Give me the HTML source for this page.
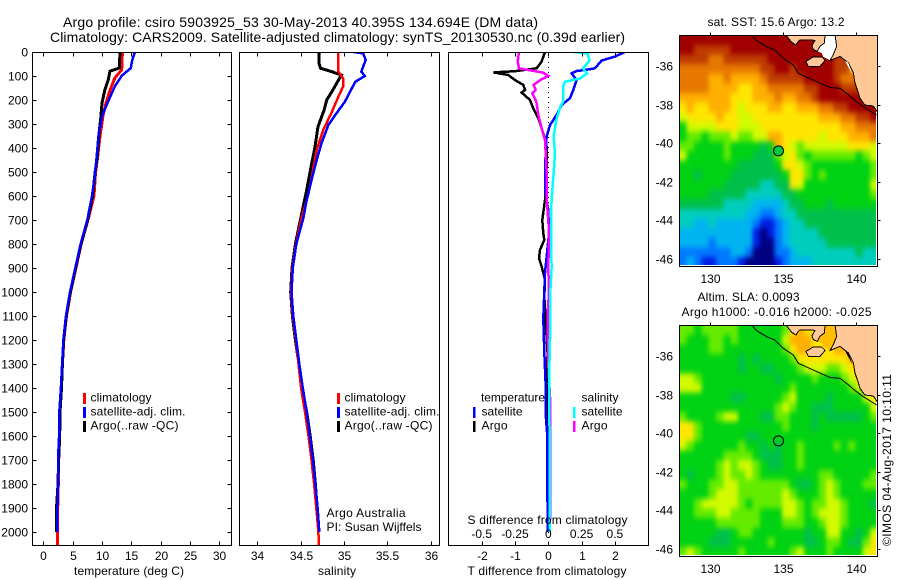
<!DOCTYPE html>
<html lang="en">
<head>
<meta charset="utf-8">
<title>Argo profile 5903925_53</title>
<style>
html,body{margin:0;padding:0;background:#fff;}
svg{display:block;}
text{font-family:"Liberation Sans",sans-serif;font-size:12px;fill:#000;}
.t14{font-size:14px;}
</style>
</head>
<body>
<svg id="chart" xmlns="http://www.w3.org/2000/svg" width="900" height="580" viewBox="0 0 900 580">
  <rect x="0" y="0" width="900" height="580" fill="#fff"/>
  <defs>
    <clipPath id="clip-p1"><rect x="32" y="52" width="200" height="494"/></clipPath>
    <clipPath id="clip-p2"><rect x="239" y="52" width="201" height="494"/></clipPath>
    <clipPath id="clip-p3"><rect x="448" y="52" width="201" height="494"/></clipPath>
    <clipPath id="clip-m1"><rect x="680" y="36" width="197" height="230"/></clipPath>
    <clipPath id="clip-m2"><rect x="680" y="326" width="197" height="230"/></clipPath>
    <clipPath id="clip-f1"><rect x="680" y="36" width="196" height="229"/></clipPath>
    <clipPath id="clip-f2"><rect x="680" y="326" width="196" height="229"/></clipPath>
    <filter id="field-soften" filterUnits="userSpaceOnUse" x="640" y="0" width="260" height="580" color-interpolation-filters="sRGB">
      <feGaussianBlur stdDeviation="2.2 2.8"/>
    </filter>
  </defs>

  <text class="t14" x="63" y="27" textLength="475" lengthAdjust="spacing">Argo profile: csiro 5903925_53 30-May-2013 40.395S 134.694E (DM data)</text>
  <text class="t14" x="50" y="42" textLength="575" lengthAdjust="spacing">Climatology: CARS2009. Satellite-adjusted climatology: synTS_20130530.nc (0.39d earlier)</text>

  <g id="marks"></g>

  <text x="74" y="575" textLength="110" lengthAdjust="spacing">temperature (deg C)</text>
  <text x="318" y="575" textLength="38" lengthAdjust="spacing">salinity</text>
  <text x="467.5" y="575" textLength="159" lengthAdjust="spacing">T difference from climatology</text>
  <text x="467.5" y="524" textLength="160" lengthAdjust="spacing">S difference from climatology</text>

  <g>
    <rect x="83" y="393" width="3" height="11" fill="#f00"/>
    <text x="90.5" y="401.5" textLength="61" lengthAdjust="spacing">climatology</text>
    <rect x="83" y="407" width="3" height="11" fill="#00f"/>
    <text x="90.5" y="415.5" textLength="95" lengthAdjust="spacing">satellite-adj. clim.</text>
    <rect x="83" y="421" width="3" height="11" fill="#000"/>
    <text x="90.5" y="429.5" textLength="88" lengthAdjust="spacing">Argo(..raw -QC)</text>
  </g>
  <g>
    <rect x="337" y="393" width="3" height="11" fill="#f00"/>
    <text x="344.5" y="401.5" textLength="61" lengthAdjust="spacing">climatology</text>
    <rect x="337" y="407" width="3" height="11" fill="#00f"/>
    <text x="344.5" y="415.5" textLength="95" lengthAdjust="spacing">satellite-adj. clim.</text>
    <rect x="337" y="421" width="3" height="11" fill="#000"/>
    <text x="344.5" y="429.5" textLength="88" lengthAdjust="spacing">Argo(..raw -QC)</text>
  </g>
  <g>
    <text x="481" y="401.5" textLength="64" lengthAdjust="spacing">temperature</text>
    <rect x="473" y="407" width="2.5" height="11" fill="#00f"/>
    <text x="481.5" y="415.5" textLength="41" lengthAdjust="spacing">satellite</text>
    <rect x="473" y="421" width="2.5" height="11" fill="#000"/>
    <text x="481.5" y="429.5" textLength="26" lengthAdjust="spacing">Argo</text>
    <text x="581.5" y="401.5" textLength="37" lengthAdjust="spacing">salinity</text>
    <rect x="573" y="407" width="2.5" height="11" fill="#0ff"/>
    <text x="581.5" y="415.5" textLength="41" lengthAdjust="spacing">satellite</text>
    <rect x="573" y="421" width="2.5" height="11" fill="#f0f"/>
    <text x="581.5" y="429.5" textLength="26" lengthAdjust="spacing">Argo</text>
  </g>
  <text x="326.5" y="517" textLength="79" lengthAdjust="spacing">Argo Australia</text>
  <text x="326.5" y="531" textLength="95" lengthAdjust="spacing">PI: Susan Wijffels</text>

  <text x="707.5" y="26" textLength="137" lengthAdjust="spacing">sat. SST: 15.6 Argo: 13.2</text>
  <text x="697.5" y="301" textLength="102" lengthAdjust="spacing">Altim. SLA: 0.0093</text>
  <text x="681.5" y="316" textLength="190" lengthAdjust="spacing">Argo h1000: -0.016 h2000: -0.025</text>
  <text transform="translate(891 546) rotate(-90)" x="0" y="0" textLength="172" lengthAdjust="spacing">©IMOS 04-Aug-2017 10:10:11</text>
</svg>
<script>
// ---- temperature profile (depth dbar, value deg C) ----
const tempClimDepth = [0,74,108,157,212,261,351,435,504,600,700,800,900,1000,1100,1200,1300,1400,1500,1600,1700,1800,1900,2000,2054];
const tempClimValue = [13.47,13.35,12.2,11.4,10.7,10.2,9.66,9.26,8.9,8.64,7.6,6.45,5.55,4.65,3.95,3.5,3.25,3.05,2.85,2.8,2.62,2.55,2.45,2.4,2.4];
const tempArgoDepth = [0,67,80,115,157,212,282,337,435,504,600,700,800,900,1000,1100,1200,1300,1400,1500,1600,1700,1800,1900,2000];
const tempArgoValue = [13.07,12.95,11.36,11.08,10.5,10.0,9.77,9.5,9.2,8.8,8.4,7.55,6.4,5.5,4.6,3.9,3.45,3.25,3.1,2.85,2.8,2.6,2.5,2.25,2.25];
const tempSatDepth = [0,32,67,99,143,205,261,351,435,518,600,700,800,900,1000,1100,1200,1300,1400,1500,1600,1700,1800,1900,2000];
const tempSatValue = [15.6,15.17,14.9,13.35,12.2,11.08,10.1,9.38,9.1,8.75,8.3,7.5,6.35,5.45,4.55,3.85,3.42,3.2,3.0,2.73,2.7,2.5,2.5,2.4,2.35];

// ---- salinity profile ----
const salClimDepth = [0,82,110,144,186,249,325,408,506,589,693,800,900,1000,1100,1200,1300,1400,1500,1600,1700,1800,1900,2000,2054];
const salClimValue = [34.935,34.935,34.99,34.99,34.935,34.86,34.76,34.685,34.635,34.59,34.51,34.445,34.405,34.39,34.41,34.445,34.475,34.505,34.55,34.59,34.625,34.655,34.68,34.705,34.71];
const salArgoDepth = [0,47,68,82,96,131,165,200,242,311,395,478,575,693,800,900,1000,1100,1200,1300,1400,1500,1600,1700,1800,1900];
const salArgoValue = [34.715,34.71,34.73,34.86,34.97,34.915,34.86,34.8,34.77,34.7,34.665,34.62,34.57,34.5,34.44,34.4,34.385,34.405,34.44,34.48,34.515,34.57,34.61,34.645,34.67,34.69];
const salSatDepth = [0,6,33,82,100,124,165,207,262,304,380,450,519,617,693,800,900,1000,1100,1200,1300,1400,1500,1600,1700,1800,1900,2000];
const salSatValue = [35.11,35.22,35.25,35.2,35.24,35.13,35.07,35.01,34.9,34.82,34.74,34.685,34.635,34.57,34.53,34.45,34.41,34.395,34.415,34.45,34.485,34.525,34.57,34.605,34.64,34.67,34.695,34.715];

// ---- differences from climatology ----
const dTArgoDepth = [0,40,68,80,85,96,117,137,158,169,200,235,276,339,394,478,617,700,756,783,825,860,893,950,1019,1144,1256,1395,1500,1600,2000];
const dTArgoValue = [-0.1,-0.2,-0.35,-1.0,-1.65,-1.2,-1.0,-0.75,-0.7,-0.8,-0.55,-0.45,-0.3,-0.15,-0.05,-0.05,-0.1,-0.18,-0.15,-0.12,-0.25,-0.28,-0.2,-0.1,-0.12,-0.07,-0.02,-0.05,-0.03,0,0];
const dTSatDepth = [0,19,36,68,75,79,89,117,158,193,221,262,304,353,478,575,658,756,920,1110,1250,1380,1504,1600,2000];
const dTSatValue = [2.3,2.0,1.6,1.4,1.1,0.85,0.7,0.85,0.75,0.65,0.4,0.25,0.05,-0.05,-0.1,-0.1,0,0.02,-0.1,-0.15,-0.12,-0.08,-0.08,-0.03,-0.02];
const dSArgoDepth = [0,40,68,75,86,99,117,137,158,172,207,262,318,367,505,617,700,756,900,1000,1090,1300,1470,1650,1900,2000];
const dSArgoValue = [-0.22,-0.23,-0.22,-0.15,-0.04,0,-0.06,-0.11,-0.095,-0.12,-0.09,-0.075,-0.05,-0.025,-0.012,-0.012,0,0.005,0,0.005,-0.005,0,0.016,0.016,0.016,0.01];
const dSSatDepth = [0,6,36,68,89,110,124,144,207,228,283,353,422,505,617,700,756,900,1000,1200,1380,1500,1700,2000];
const dSSatValue = [0.19,0.295,0.31,0.26,0.29,0.24,0.125,0.11,0.11,0.09,0.06,0.04,0.05,0.04,0.025,0.02,0.02,0.025,0.015,0.0125,0.005,0.0075,0.0125,0.01];

// ---- tick labels ----
const depthTicks = [0,100,200,300,400,500,600,700,800,900,1000,1100,1200,1300,1400,1500,1600,1700,1800,1900,2000];
const tempTicks = [0,5,10,15,20,25,30];
const salTicks = [34,34.5,35,35.5,36];
const dTTicks = [-2,-1,0,1,2];
const dSTicks = [-0.5,-0.25,0,0.25,0.5];
const lonTicks = [130,135,140];
const latTicks = [-36,-38,-40,-42,-44,-46];

// ---- profile position ----
const argoLon = 134.694;
const argoLat = -40.395;

// ---- map fields: palette class per half-degree cell, north to south ----
const sstGrid = [
[13,13,13,13,13,13,13,13,13,13,13,13,13,13,13,13,13,13,13,13,13,13,13,13,13,13,13],
[13,13,12,12,12,12,12,13,13,13,13,13,13,13,13,13,13,13,13,13,13,13,13,13,13,13,13],
[12,12,12,12,11,11,12,12,12,12,12,12,13,13,13,13,13,13,13,13,13,12,12,12,12,12,13],
[11,11,11,11,11,11,11,11,11,11,11,12,12,13,13,12,13,13,13,13,13,12,12,11,11,13,13],
[11,11,11,11,10,10,11,10,10,10,10,11,12,12,12,12,12,13,13,13,13,12,11,11,11,13,13],
[11,11,11,11,10,10,10,10,9,9,10,10,11,11,11,11,11,12,12,13,13,13,12,12,12,13,13],
[10,10,10,10,10,10,10,9,9,9,10,10,10,11,10,10,11,11,12,13,13,13,13,13,13,13,13],
[9,10,9,9,10,10,10,9,8,9,9,9,10,10,9,9,10,10,10,11,11,12,12,13,13,13,13],
[8,9,9,9,9,10,9,9,8,8,9,9,9,9,9,9,9,9,9,10,10,10,11,11,12,12,13],
[6,8,8,8,8,9,9,9,8,8,8,9,9,9,9,9,9,9,9,9,9,9,10,10,11,11,11],
[6,7,7,6,7,7,7,8,7,7,8,8,10,10,9,9,9,9,9,8,9,9,9,10,10,10,11],
[7,7,6,6,6,6,7,6,6,6,6,5,6,10,9,8,7,8,8,8,8,8,8,9,9,9,8],
[8,6,6,6,6,6,7,6,6,6,5,5,5,7,8,9,7,6,7,7,7,7,7,7,6,7,8],
[6,6,6,6,6,6,6,6,5,5,5,5,5,6,9,9,8,7,6,6,6,6,6,6,6,6,7],
[6,6,5,6,6,6,6,5,5,5,5,5,5,5,6,9,9,7,6,7,6,6,6,6,6,6,7],
[6,6,6,6,6,6,5,5,5,5,5,4,4,5,5,9,8,6,6,6,6,6,6,6,6,6,8],
[6,6,6,6,5,5,5,5,5,4,4,4,4,4,5,5,6,6,6,6,6,6,6,6,6,6,7],
[5,5,5,5,5,5,4,4,4,4,3,3,3,3,4,5,5,6,6,6,5,6,6,6,6,6,6],
[4,4,4,4,4,4,4,4,4,3,3,2,2,3,4,4,5,5,5,5,5,5,5,5,5,5,5],
[4,4,3,3,4,3,3,3,3,3,2,1,1,2,3,4,4,5,5,5,5,5,5,5,5,5,5],
[3,3,3,3,3,3,3,3,3,3,1,0,1,2,3,4,4,4,4,5,5,5,5,5,5,5,5],
[3,3,3,3,2,3,3,3,3,3,1,0,0,2,3,4,4,4,4,4,5,5,5,5,5,5,5],
[2,2,2,2,2,2,2,3,3,2,0,0,0,2,2,3,4,4,4,4,4,4,4,4,5,4,4],
[2,3,2,1,1,2,2,2,1,0,0,0,0,1,2,3,3,3,4,4,4,4,4,4,4,4,4]
];
const slaGrid = [
[7,7,6,7,7,7,7,7,6,6,6,6,6,6,7,9,10,9,9,8,7,8,8,8,8,8,8],
[7,6,6,6,7,7,6,7,6,6,6,6,6,6,8,10,10,10,9,9,8,9,9,9,9,9,9],
[6,6,6,6,7,7,6,6,6,6,6,6,6,6,7,9,10,10,9,9,9,10,10,10,9,9,9],
[6,6,6,6,6,6,6,6,5,6,5,6,6,6,6,7,9,9,9,9,9,9,9,10,10,10,9],
[6,6,6,6,6,6,6,6,5,6,6,5,5,6,6,6,7,8,8,8,7,7,8,9,10,10,10],
[8,8,7,6,6,6,6,6,6,6,6,6,6,5,6,6,6,6,7,6,6,6,7,8,9,10,10],
[8,8,8,6,6,6,6,6,6,6,6,6,6,6,6,7,6,6,6,6,6,6,6,7,8,9,9],
[6,6,6,6,6,6,6,5,5,6,6,6,6,6,7,8,6,6,6,6,5,6,6,6,6,8,9],
[6,6,6,6,6,6,6,6,6,6,6,6,6,7,8,7,6,6,5,5,5,6,6,6,6,6,8],
[7,6,6,6,6,7,8,8,6,6,6,5,5,7,7,6,6,6,5,6,5,5,5,5,5,6,7],
[9,9,7,6,6,6,6,6,6,6,6,6,6,6,7,6,6,6,5,6,6,6,6,6,6,6,6],
[9,9,7,6,6,6,6,6,6,5,5,6,6,6,6,6,6,6,6,6,6,6,6,6,6,6,6],
[8,7,6,6,6,6,6,6,7,6,6,5,6,5,6,6,7,6,6,6,6,7,6,7,6,6,6],
[6,6,6,6,6,6,7,7,7,7,6,5,5,5,6,6,7,6,6,6,6,6,6,6,6,6,6],
[6,6,6,6,6,7,8,7,8,8,7,6,5,5,6,6,7,6,6,6,6,6,6,6,6,6,6],
[6,5,6,6,6,7,8,7,7,8,7,6,6,6,6,6,6,6,6,7,7,6,6,6,6,6,7],
[7,6,6,6,7,7,8,8,7,7,7,7,7,7,7,6,5,5,6,7,8,7,6,6,6,7,7],
[6,6,6,6,7,8,8,8,7,7,7,7,7,7,8,7,6,6,6,7,8,7,6,6,6,6,6],
[6,6,7,8,8,8,8,8,7,6,7,7,7,7,8,8,7,6,7,7,8,8,7,6,6,6,5],
[6,6,7,7,7,8,8,7,7,7,7,6,6,6,8,8,7,6,7,8,8,8,7,6,6,6,6],
[6,6,6,6,6,7,7,7,7,7,7,6,6,6,7,7,7,6,6,7,8,8,7,6,6,6,6],
[6,6,6,6,6,5,5,6,7,7,6,6,6,6,6,6,6,5,6,6,8,8,6,6,5,6,8],
[6,6,6,6,5,5,5,6,6,6,6,6,7,6,6,6,6,5,5,6,7,7,6,5,5,7,9],
[7,8,7,6,6,6,6,6,7,6,6,6,6,6,6,7,8,6,6,6,7,6,6,6,6,8,9]
];
const palette = ["#000082","#001ee6","#0078ff","#00b4f0","#00cdbe","#00c04b","#00d214","#64eb00","#d2fa00","#ffe600","#ffaf00","#e67800","#be3c00","#a00000"];

// ---- geography (lon/lat) ----
const mainLandLon = [138.55,141.43,141.43,141.16,140.59,140.25,140.14,139.91,139.80,139.46,138.89,138.43,138.21,138.43,138.66];
const mainLandLat = [-34.39,-34.39,-38.37,-38.07,-38.02,-37.68,-37.40,-36.88,-36.36,-35.84,-35.50,-35.64,-35.71,-35.41,-34.98];
const peninsulaLon = [135.20,137.87,137.82,137.52,137.34,137.07,136.98,137.18,136.16,136.05,135.89,135.59,135.36];
const peninsulaLat = [-34.39,-34.39,-34.81,-34.98,-35.24,-35.15,-34.95,-34.67,-34.64,-34.72,-34.91,-34.77,-34.55];
const gulfLon = [137.34,137.52,137.82,137.87,138.55,138.66,138.43,138.21,137.75,137.64];
const gulfLat = [-35.24,-34.98,-34.81,-34.39,-34.39,-34.98,-35.41,-35.71,-35.53,-35.33];
const islandLon = [136.57,137.07,137.64,137.87,137.52,136.73];
const islandLat = [-35.76,-35.53,-35.53,-35.71,-36.02,-36.02];
const sliverLon = [139.23,139.46,139.75,139.62];
const sliverLat = [-35.72,-35.84,-36.45,-36.28];
const isobathLon = [132.86,133.20,133.89,134.45,135.02,135.70,136.05,136.39,137.30,138.20,138.89,139.34,140.02,140.48,141.39];
const isobathLat = [-34.39,-34.69,-35.00,-35.17,-35.60,-35.95,-36.38,-36.50,-36.81,-37.11,-37.16,-37.42,-37.85,-38.11,-38.54];

// ---- axis functions ----
const depthY = d => 52 + d * 0.24;
const tempX = v => 43.3 + v * 5.87;
const salX = v => 257.3 + (v - 34) * 86.7;
const dTX = v => 548.3 + v * 33.3;
const dSX = v => 548.3 + v * 133.2;
const lonX = v => 709.7 + (v - 130) * 14.66;
const sstY = v => 66 + (-36 - v) * 19.3;
const slaY = v => 356 + (-36 - v) * 19.3;

const NS = "http://www.w3.org/2000/svg";
const root = document.getElementById("marks");
function make(tag, attrs, parent) {
  const n = document.createElementNS(NS, tag);
  for (const k in attrs) n.setAttribute(k, attrs[k]);
  (parent || root).appendChild(n);
  return n;
}
function drawFrame(x0, y0, x1, y1, name) {
  const f = make("rect", {x:x0, y:y0, width:x1-x0, height:y1-y0, fill:"none", stroke:"#000", "stroke-width":1, "shape-rendering":"crispEdges"});
  
  
}
function drawTick(x1, y1, x2, y2) {
  const t = make("line", {x1:x1, y1:y1, x2:x2, y2:y2, stroke:"#000", "stroke-width":1, "shape-rendering":"crispEdges"});
  
  
}
function drawLabel(str, x, y, anchor) {
  const t = make("text", {x:x, y:y, "text-anchor":anchor});
  t.textContent = str;
  
  
}
function drawLine(xs, ys, xf, yf, color, width, clip, name) {
  const pts = xs.map((v, i) => xf(v).toFixed(1) + "," + yf(ys[i]).toFixed(1)).join(" ");
  const p = make("polyline", {points:pts, fill:"none", stroke:color, "stroke-width":width, "stroke-linejoin":"miter", "shape-rendering":"crispEdges", "clip-path":"url(#" + clip + ")"});
  
  
}
function drawPoly(xs, ys, yf, fill, stroke, clip, name) {
  const pts = xs.map((v, i) => lonX(v).toFixed(1) + "," + yf(ys[i]).toFixed(1)).join(" ");
  const p = make("polygon", {points:pts, fill:fill, stroke:stroke, "stroke-width":1, "shape-rendering":"crispEdges", "clip-path":"url(#" + clip + ")"});
  
  
}

// ---- panel 1: temperature ----
drawLine(tempClimValue, tempClimDepth, tempX, depthY, "#f00", 3, "clip-p1", "temperature-climatology-line");
drawLine(tempArgoValue, tempArgoDepth, tempX, depthY, "#000", 3, "clip-p1", "temperature-argo-line");
drawLine(tempSatValue, tempSatDepth, tempX, depthY, "#00f", 2.5, "clip-p1", "temperature-satellite-line");
drawFrame(32.5, 52.5, 231.5, 545.5, "temperature-plot-frame");
depthTicks.forEach(d => {
  const y = Math.round(depthY(d)) + 0.5;
  drawTick(32.5, y, 36.5, y);
  drawTick(227.5, y, 231.5, y);
  drawLabel(String(d), 28, y + 4, "end");
});
tempTicks.forEach(v => {
  const x = Math.round(tempX(v)) + 0.5;
  drawTick(x, 52.5, x, 56.5);
  drawTick(x, 541.5, x, 545.5);
  drawLabel(String(v), x, 560, "middle");
});

// ---- panel 2: salinity ----
drawLine(salArgoValue, salArgoDepth, salX, depthY, "#000", 3, "clip-p2", "salinity-argo-line");
drawLine(salClimValue, salClimDepth, salX, depthY, "#f00", 2.5, "clip-p2", "salinity-climatology-line");
drawLine(salSatValue, salSatDepth, salX, depthY, "#00f", 2.5, "clip-p2", "salinity-satellite-line");
drawFrame(239.5, 52.5, 439.5, 545.5, "salinity-plot-frame");
salTicks.forEach(v => {
  const x = Math.round(salX(v)) + 0.5;
  drawTick(x, 52.5, x, 56.5);
  drawTick(x, 541.5, x, 545.5);
  drawLabel(String(v), x, 560, "middle");
});

// ---- panel 3: differences ----
const zero = make("line", {x1:dTX(0), y1:52, x2:dTX(0), y2:545, stroke:"#000", "stroke-width":1, "stroke-dasharray":"1 4", "shape-rendering":"crispEdges"});


drawLine(dTArgoValue, dTArgoDepth, dTX, depthY, "#000", 2.5, "clip-p3", "t-difference-argo-line");
drawLine(dTSatValue, dTSatDepth, dTX, depthY, "#00f", 2.5, "clip-p3", "t-difference-satellite-line");
drawLine(dSArgoValue, dSArgoDepth, dSX, depthY, "#f0f", 2.5, "clip-p3", "s-difference-argo-line");
drawLine(dSSatValue, dSSatDepth, dSX, depthY, "#0ff", 2.5, "clip-p3", "s-difference-satellite-line");
drawFrame(448.5, 52.5, 648.5, 545.5, "difference-plot-frame");
dTTicks.forEach(v => {
  const x = Math.round(dTX(v)) + 0.5;
  drawTick(x, 52.5, x, 56.5);
  drawTick(x, 541.5, x, 545.5);
  drawLabel(String(v), x, 560, "middle");
});
dSTicks.forEach(v => {
  drawLabel(String(v), dSX(v), 538, "middle");
});

// ---- maps ----
function drawField(grid, yf, clip, name) {
  const outer = make("g", {"clip-path":"url(#" + clip + ")"});
  
  
  const inner = make("g", {filter:"url(#field-soften)"}, outer);
  
  
  const lastRow = grid.length - 1;
  grid.forEach((row, j) => {
    const lastCol = row.length - 1;
    row.forEach((val, i) => {
      const west = 127.93 + i * 0.5;
      const north = -34.4 - j * 0.5;
      const padL = i === 0 ? 14 : 0;
      const padR = i === lastCol ? 14 : 0;
      const padT = j === 0 ? 14 : 0;
      const padB = j === lastRow ? 14 : 0;
      const x = lonX(west);
      const y = yf(north);
      const c = make("rect", {x:x - padL, y:y - padT, width:lonX(west + 0.5) - x + 0.5 + padL + padR, height:yf(north - 0.5) - y + 0.5 + padT + padB, fill:palette[val], "shape-rendering":"crispEdges"}, inner);
      
      
    });
  });
}
function drawMapDecor(yf, clip, top, bottom, prefix, gulfFill, sliverFill, dotFill) {
  drawPoly(gulfLon, gulfLat, yf, gulfFill, "none", clip, prefix + "-gulf");
  drawPoly(mainLandLon, mainLandLat, yf, "#ffc896", "#000", clip, prefix + "-land");
  drawPoly(peninsulaLon, peninsulaLat, yf, "#ffc896", "#000", clip, prefix + "-peninsula");
  drawPoly(islandLon, islandLat, yf, "#ffc896", "#000", clip, prefix + "-kangaroo-island");
  drawPoly(sliverLon, sliverLat, yf, sliverFill, "none", clip, prefix + "-coastal-gap");
  const iso = make("polyline", {points:isobathLon.map((v, i) => lonX(v).toFixed(1) + "," + yf(isobathLat[i]).toFixed(1)).join(" "), fill:"none", stroke:"#000", "stroke-width":1, "clip-path":"url(#" + clip + ")"});
  
  
  const dot = make("circle", {cx:lonX(argoLon), cy:yf(argoLat), r:5, fill:dotFill, stroke:"#000", "stroke-width":1});
  
  
  drawFrame(679.5, top, 877.5, bottom, prefix + "-map-frame");
  lonTicks.forEach(v => {
    const x = Math.round(lonX(v)) + 0.5;
    drawTick(x, top - 3, x, top);
    drawLabel(String(v), x, bottom + 16.5, "middle");
  });
  latTicks.forEach(v => {
    const y = Math.round(yf(v)) + 0.5;
    drawTick(877.5, y, 880.5, y);
    drawLabel(String(v), 673, y + 4, "end");
  });
}
drawField(sstGrid, sstY, "clip-f1", "sst-cell");
drawMapDecor(sstY, "clip-m1", 35.5, 266.5, "sst", "#fff", "#fff", "#00c83c");
drawField(slaGrid, slaY, "clip-f2", "sla-cell");
drawMapDecor(slaY, "clip-m2", 325.5, 556.5, "sla", "#ffbe00", "#000", "none");
</script>
</body>
</html>
